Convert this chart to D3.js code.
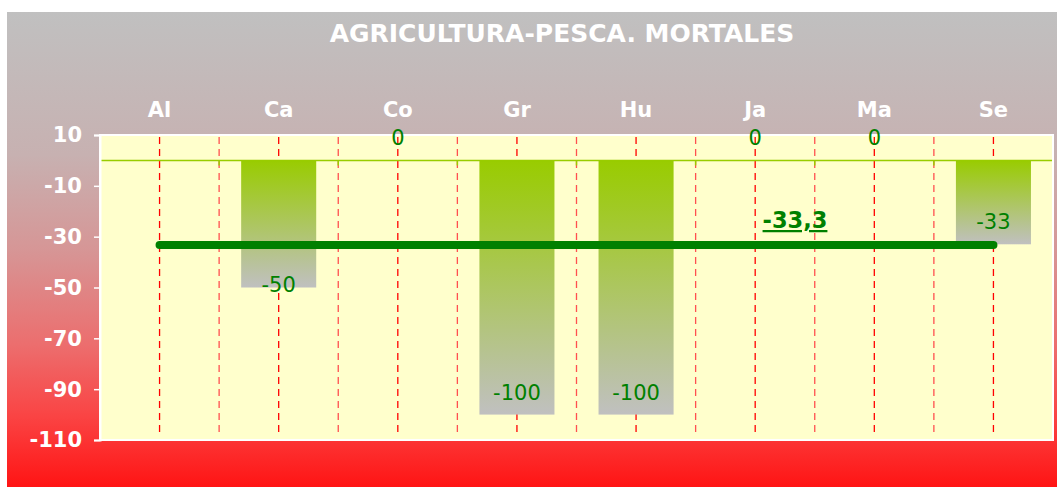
<!DOCTYPE html>
<html><head><meta charset="utf-8">
<script src="https://cdn.jsdelivr.net/npm/d3@7"></script>
<style>html,body{margin:0;padding:0;background:#fff;}svg{display:block;}</style>
</head><body>
<script>
const title = "AGRICULTURA-PESCA. MORTALES";
const categories = ["Al","Ca","Co","Gr","Hu","Ja","Ma","Se"];
const values = [null, -50, 0, -100, -100, 0, 0, -33];
const averageValue = -33.3;
const averageLabel = "-33,3";
const yTicks = [10, -10, -30, -50, -70, -90, -110];
const labelsAtBarEnd = ["Ca"];

const W = 1057, H = 487;
const m = {left: 100, right: 1053, top: 135, bottom: 440};
const font = "'DejaVu Sans', Verdana, sans-serif";

const svg = d3.select("body").append("svg").attr("width", W).attr("height", H);
const defs = svg.append("defs");
const bg = defs.append("linearGradient").attr("id","bg").attr("x1",0).attr("y1",0).attr("x2",0).attr("y2",1);
[[0,"#c0c0c0"],[0.3,"#c7b1b1"],[0.5,"#d69696"],[0.7,"#ec6e6e"],[0.85,"#fa4444"],[1,"#ff1414"]]
  .forEach(([o,c]) => bg.append("stop").attr("offset",o).attr("stop-color",c));
const bar = defs.append("linearGradient").attr("id","bar").attr("x1",0).attr("y1",0).attr("x2",0).attr("y2",1);
bar.append("stop").attr("offset",0).attr("stop-color","#99cc00");
bar.append("stop").attr("offset",1).attr("stop-color","#c0c0c0");

svg.append("rect").attr("x",7).attr("y",12).attr("width",W-7).attr("height",H-12).attr("fill","url(#bg)");

const x = d3.scaleBand().domain(categories).range([m.left, m.right]).padding(0);
const y = d3.scaleLinear().domain([10, -110]).range([m.top, m.bottom]);
const fmt = d => String(d);

// plot area
svg.append("rect").attr("x",m.left).attr("y",m.top).attr("width",m.right-m.left).attr("height",m.bottom-m.top)
  .attr("fill","#ffffcc");

// gridlines: boundaries and centers
const bounds = categories.slice(1).map(c => x(c));
svg.append("g").selectAll("line").data(bounds).join("line")
  .attr("x1",d=>d).attr("x2",d=>d).attr("y1",m.top+2).attr("y2",m.bottom-3)
  .attr("stroke","#ff5050").attr("stroke-width",1.3).attr("stroke-dasharray","7,5");
svg.append("g").selectAll("line").data(categories).join("line")
  .attr("x1",d=>x(d)+x.bandwidth()/2).attr("x2",d=>x(d)+x.bandwidth()/2).attr("y1",m.top+2).attr("y2",m.bottom-3)
  .attr("stroke","#ff0000").attr("stroke-width",1.3).attr("stroke-dasharray","7,5");

// bars
const bw = x.bandwidth()*0.63;
const data = categories.map((c,i)=>({c, v: values[i]}));
svg.append("g").selectAll("rect").data(data.filter(d=>d.v!==null && d.v!==0)).join("rect")
  .attr("x",d=>x(d.c)+x.bandwidth()/2-bw/2).attr("width",bw)
  .attr("y",d=>Math.min(y(0),y(d.v))).attr("height",d=>Math.abs(y(d.v)-y(0)))
  .attr("fill","url(#bar)");

// zero axis line with ticks
svg.append("line").attr("x1",m.left).attr("x2",m.right).attr("y1",y(0)).attr("y2",y(0))
  .attr("stroke","#99cc00").attr("stroke-width",1.5);
svg.append("g").selectAll("line").data([m.left, ...bounds, m.right]).join("line")
  .attr("x1",d=>d).attr("x2",d=>d).attr("y1",y(0)).attr("y2",y(0)+5)
  .attr("stroke","#99cc00").attr("stroke-width",1.5);

// plot border (white)
svg.append("rect").attr("x",m.left).attr("y",m.top).attr("width",m.right-m.left).attr("height",m.bottom-m.top)
  .attr("fill","none").attr("stroke","#ffffff").attr("stroke-width",2);

// y axis
const yAxis = d3.axisLeft(y).tickValues(yTicks).tickSize(6).tickPadding(12).tickFormat(fmt);
const ga = svg.append("g").attr("transform",`translate(${m.left},0)`).call(yAxis);
ga.select(".domain").attr("stroke","#ffffff").attr("stroke-width",2);
ga.selectAll(".tick line").attr("stroke","#ffffff").attr("stroke-width",1.5);
ga.selectAll(".tick text").attr("fill","#ffffff").attr("font-family",font).attr("font-weight","bold")
  .attr("font-size","21px").attr("dy","0.33em");

// category labels (top)
svg.append("g").selectAll("text").data(categories).join("text")
  .attr("x",d=>x(d)+x.bandwidth()/2).attr("y",117).attr("text-anchor","middle")
  .attr("fill","#ffffff").attr("font-family",font).attr("font-weight","bold").attr("font-size","21px")
  .text(d=>d);

// title
svg.append("text").attr("x",562).attr("y",42).attr("text-anchor","middle")
  .attr("fill","#ffffff").attr("font-family",font).attr("font-weight","bold").attr("font-size","25px")
  .text(title);

// average line
svg.append("line")
  .attr("x1",x(categories[0])+x.bandwidth()/2).attr("x2",x(categories[categories.length-1])+x.bandwidth()/2)
  .attr("y1",y(averageValue)).attr("y2",y(averageValue))
  .attr("stroke","#008000").attr("stroke-width",8).attr("stroke-linecap","round");

// value labels
svg.append("g").selectAll("text").data(data.filter(d=>d.v!==null)).join("text")
  .attr("x",d=>x(d.c)+x.bandwidth()/2)
  .attr("y",d=>labelsAtBarEnd.includes(d.c) ? y(d.v)+4.5 : y(d.v)-15)
  .attr("text-anchor","middle").attr("fill","#008000").attr("font-family",font).attr("font-size","21px")
  .text(d=>fmt(d.v));

// average label
svg.append("text").attr("x",795).attr("y",228).attr("text-anchor","middle")
  .attr("fill","#008000").attr("font-family",font).attr("font-weight","bold").attr("font-size","22.5px")
  .attr("text-decoration","underline")
  .text(averageLabel);
</script>
</body></html>
